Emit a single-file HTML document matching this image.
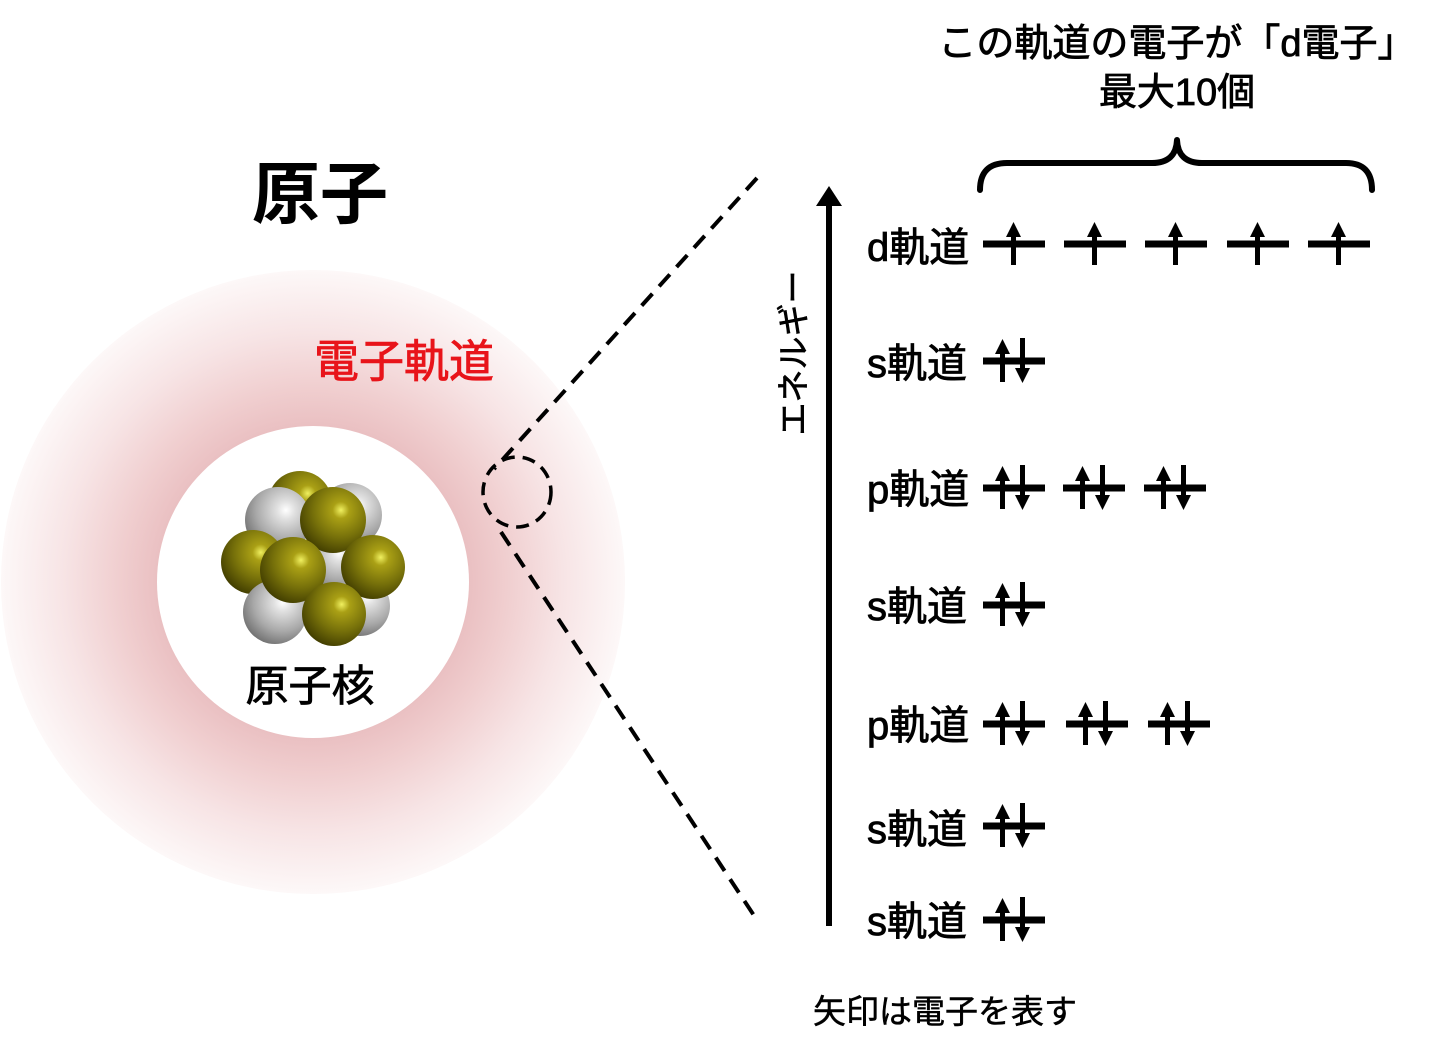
<!DOCTYPE html>
<html><head><meta charset="utf-8"><style>
html,body{margin:0;padding:0;background:#fff;}
svg{display:block}
text{font-family:"Liberation Sans","Noto Sans CJK JP",sans-serif;}
</style></head><body>
<svg width="1440" height="1052" viewBox="0 0 1440 1052" xmlns="http://www.w3.org/2000/svg">
<defs>
<radialGradient id="orb" cx="313" cy="582" r="312" gradientUnits="userSpaceOnUse">
<stop offset="0.5" stop-color="#eac0c2"/>
<stop offset="0.62" stop-color="#f0cecf"/>
<stop offset="0.8" stop-color="#f7e4e5"/>
<stop offset="1" stop-color="#fdf8f8"/>
</radialGradient>
<radialGradient id="ol" cx="0.62" cy="0.35" r="0.7">
<stop offset="0" stop-color="#f0f060"/>
<stop offset="0.18" stop-color="#aaa015"/>
<stop offset="0.6" stop-color="#76700a"/>
<stop offset="1" stop-color="#403c00"/>
</radialGradient>
<radialGradient id="gr" cx="0.62" cy="0.35" r="0.7">
<stop offset="0" stop-color="#ffffff"/>
<stop offset="0.2" stop-color="#e0e0e0"/>
<stop offset="0.65" stop-color="#a8a8a8"/>
<stop offset="1" stop-color="#707070"/>
</radialGradient>
<g id="u">
<rect x="0" y="-3.5" width="62" height="7" fill="#000"/>
<rect x="28" y="-12" width="5" height="33" fill="#000"/>
<polygon points="30.5,-22 23,-7 38,-7" fill="#000"/>
</g>
<g id="ud">
<rect x="0" y="-3.5" width="62" height="7" fill="#000"/>
<rect x="17" y="-12" width="5" height="33" fill="#000"/>
<polygon points="19.5,-22 12,-7 27,-7" fill="#000"/>
<rect x="37" y="-23" width="5" height="33" fill="#000"/>
<polygon points="39.5,22 32,7 47,7" fill="#000"/>
</g>
</defs>

<circle cx="313" cy="582" r="312" fill="url(#orb)"/>
<circle cx="313" cy="582" r="156" fill="#fff"/>

<circle cx="300" cy="503" r="32" fill="url(#ol)"/>
<circle cx="350" cy="515" r="32" fill="url(#gr)"/>
<circle cx="278" cy="520" r="33" fill="url(#gr)"/>
<circle cx="253" cy="562" r="32" fill="url(#ol)"/>
<circle cx="332" cy="562" r="30" fill="url(#gr)"/>
<circle cx="275" cy="612" r="32" fill="url(#gr)"/>
<circle cx="360" cy="606" r="30" fill="url(#gr)"/>
<circle cx="333" cy="520" r="33" fill="url(#ol)"/>
<circle cx="373" cy="567" r="32" fill="url(#ol)"/>
<circle cx="293" cy="570" r="33" fill="url(#ol)"/>
<circle cx="334" cy="614" r="32" fill="url(#ol)"/>

<text x="320" y="218" font-size="68" font-weight="bold" text-anchor="middle">原子</text>
<text x="404" y="377" font-size="45" fill="#e8141a" stroke="#e8141a" stroke-width="0.8" text-anchor="middle">電子軌道</text>
<text x="310" y="701" font-size="43" stroke="#000" stroke-width="0.8" text-anchor="middle">原子核</text>

<line x1="757" y1="178" x2="494" y2="469" stroke="#000" stroke-width="4" stroke-dasharray="16,10"/>
<line x1="501" y1="532" x2="755" y2="917" stroke="#000" stroke-width="4" stroke-dasharray="16,10"/>
<ellipse cx="517" cy="492" rx="34" ry="35" fill="none" stroke="#000" stroke-width="3.5" stroke-dasharray="13,8"/>

<rect x="826" y="200" width="6" height="726" fill="#000"/>
<polygon points="829,186 816,206 842,206" fill="#000"/>
<text transform="translate(805,353) rotate(-90)" font-size="33" stroke="#000" stroke-width="0.6" text-anchor="middle">エネルギー</text>

<path d="M980,190 Q980,163 1007,163 L1152,163 Q1176,163 1177,140 Q1178,163 1202,163 L1346,163 Q1372,163 1372,190" fill="none" stroke="#000" stroke-width="6" stroke-linejoin="round" stroke-linecap="round"/>
<g stroke="#000" stroke-width="0.8">
<text x="1177" y="56" font-size="38" text-anchor="middle">この軌道の電子が「d電子」</text>
<text x="1177" y="105" font-size="38" text-anchor="middle">最大10個</text>
</g>

<g font-size="40" stroke="#000" stroke-width="0.8">
<text x="867" y="261">d軌道</text>
<text x="867" y="377">s軌道</text>
<text x="867" y="503">p軌道</text>
<text x="867" y="620">s軌道</text>
<text x="867" y="739">p軌道</text>
<text x="867" y="843">s軌道</text>
<text x="867" y="935">s軌道</text>
</g>

<use href="#u" x="983" y="244"/>
<use href="#u" x="1064" y="244"/>
<use href="#u" x="1145" y="244"/>
<use href="#u" x="1227" y="244"/>
<use href="#u" x="1308" y="244"/>

<use href="#ud" x="983" y="361"/>
<use href="#ud" x="983" y="488"/>
<use href="#ud" x="1063" y="488"/>
<use href="#ud" x="1144" y="488"/>
<use href="#ud" x="983" y="605"/>
<use href="#ud" x="983" y="724"/>
<use href="#ud" x="1066" y="724"/>
<use href="#ud" x="1148" y="724"/>
<use href="#ud" x="983" y="826"/>
<use href="#ud" x="983" y="920"/>

<text x="813" y="1023" font-size="33" stroke="#000" stroke-width="0.5">矢印は電子を表す</text>
</svg>
</body></html>
